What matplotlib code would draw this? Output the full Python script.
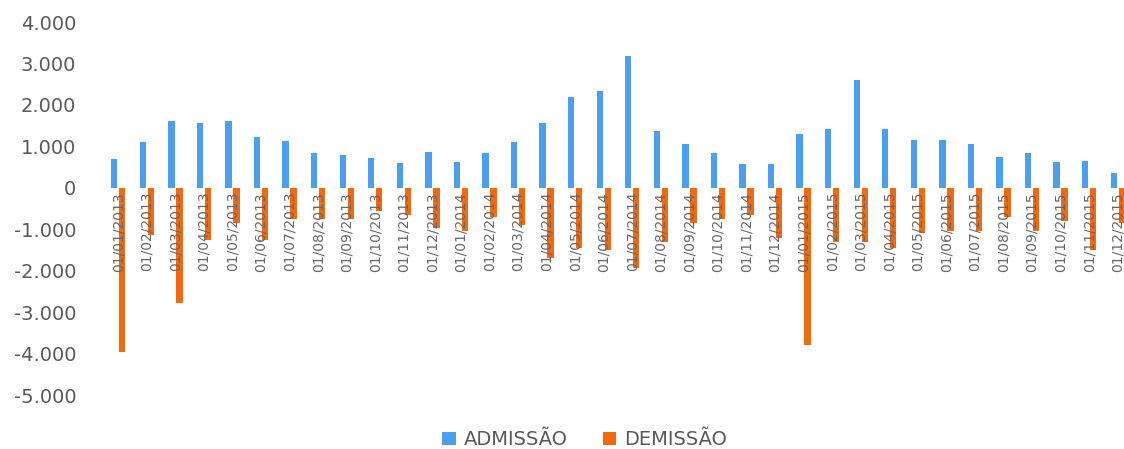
import numpy as np
import matplotlib.pyplot as plt
from matplotlib.ticker import FuncFormatter

# monthly data 01/2013 - 12/2015
meses = [f"01/{m:02d}/{a}" for a in (2013, 2014, 2015) for m in range(1, 13)]
admissao = [700, 1100, 1620, 1560, 1620, 1220, 1130, 840, 800, 720, 600, 870,
            620, 850, 1100, 1560, 2200, 2330, 3170, 1360, 1050, 830, 580, 580,
            1300, 1420, 2600, 1420, 1150, 1150, 1050, 750, 840, 620, 650, 350]
demissao = [-3950, -1130, -2780, -1250, -850, -1250, -750, -750, -750, -560, -650, -980,
            -1050, -700, -900, -1700, -1450, -1500, -1940, -1300, -860, -750, -650, -1200,
            -3800, -1300, -1300, -1450, -1100, -1050, -1050, -700, -1050, -800, -1500, -850]

azul = '#4d9ef0'
laranja = '#f2690f'
cinza = '#595959'

fig = plt.figure(figsize=(11.24, 4.49), dpi=100)
ax = fig.add_axes([0.09, 0.12, 0.91, 0.831])

x = np.arange(len(meses))
w = 0.22
ax.bar(x - 0.14, admissao, w, color=azul, label='ADMISSÃO')
ax.bar(x + 0.14, demissao, w, color=laranja, label='DEMISSÃO')

# x axis at zero (set before the labels, set_position resets ticks)
ax.spines['bottom'].set_position(('data', 0))
for s in ax.spines.values():
    s.set_visible(False)

ax.set_xlim(-0.6, 35.22)
ax.set_ylim(-5000, 4000)
ax.set_yticks(np.arange(-5000, 4001, 1000))
ax.yaxis.set_major_formatter(FuncFormatter(lambda v, p: f"{int(v):,}".replace(',', '.')))

ax.set_xticks(x)
ax.set_xticklabels(meses, rotation=90, fontsize=10, color='#666666', va='top')
ax.tick_params(axis='x', length=0, pad=3)
ax.tick_params(axis='y', length=0, pad=18, labelsize=14, labelcolor=cinza)

fig.legend(loc='lower center', bbox_to_anchor=(0.52, -0.04), ncol=2, frameon=False,
           fontsize=14, labelcolor=cinza, handlelength=0.7, handleheight=0.7,
           handletextpad=0.4, columnspacing=1.8)

plt.savefig('out.png')
